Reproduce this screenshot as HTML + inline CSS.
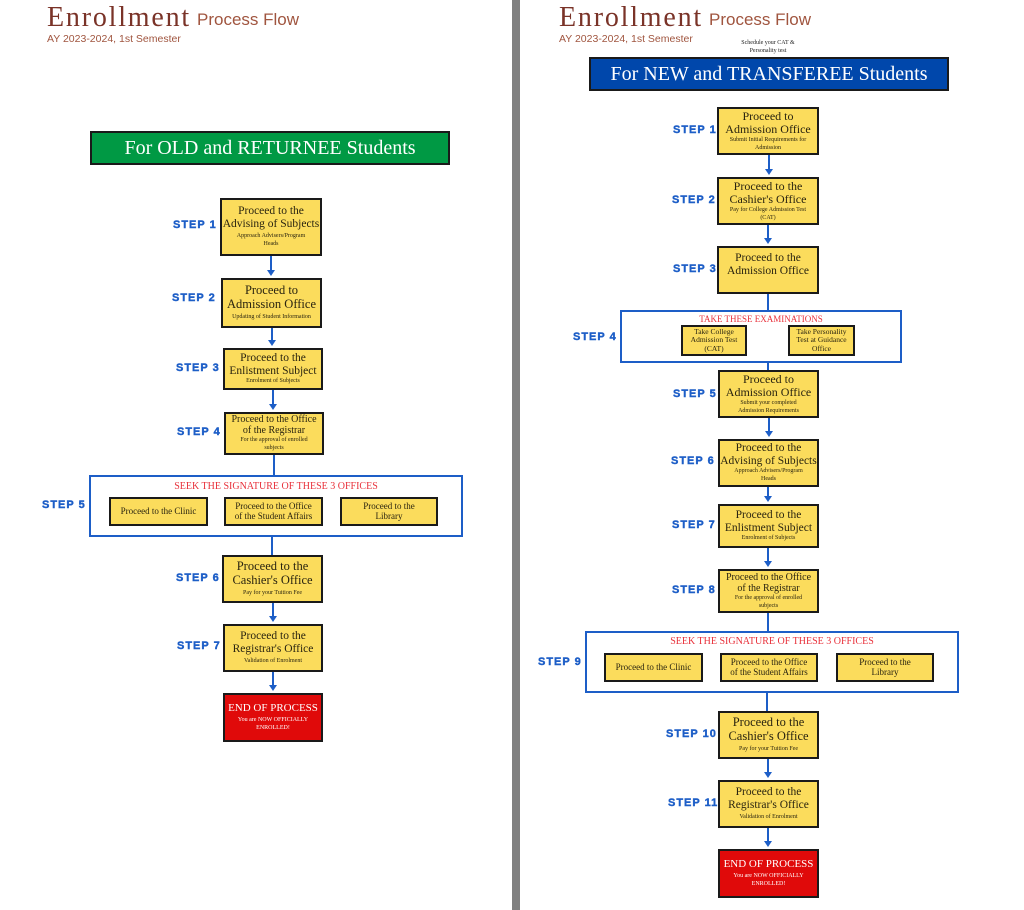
<!DOCTYPE html>
<html><head><meta charset="utf-8"><style>
*{margin:0;padding:0;box-sizing:border-box}
body{width:1024px;height:910px;background:#fff;position:relative;overflow:hidden;font-family:"Liberation Serif",serif}
.a{position:absolute}
.bx{position:absolute;background:#fbdc5c;border:2px solid #1a1a1a;display:flex;flex-direction:column;align-items:center;justify-content:center;text-align:center;color:#2a2410;line-height:1.1}
.t{font-size:11.5px}
.t2{font-size:10px}
.s{font-size:6px;margin-top:3px;line-height:1.3}
.red{background:#e00a0a;color:#fff}
.st{position:absolute;font-family:"Liberation Sans",sans-serif;font-weight:bold;color:#1d5ec7;font-size:11px;letter-spacing:1px;white-space:nowrap;-webkit-text-stroke:0.4px #1d5ec7}
.cont{position:absolute;border:2px solid #1d5ec7;background:#fff}
.ct{position:absolute;left:0;right:0;text-align:center;color:#e8303a;font-size:10px}
.h1{position:absolute;font-size:28px;color:#7a3328;font-family:"Liberation Serif",serif;letter-spacing:1.8px}
.h2{position:absolute;font-size:17px;color:#a0553f;font-family:"Liberation Sans",sans-serif}
.h3{position:absolute;font-size:10.5px;color:#a0553f;font-family:"Liberation Sans",sans-serif}
.ban{position:absolute;border:2px solid #1a1a1a;color:#fff;font-size:20px;text-align:center}
</style></head><body>
<div class="a" style="left:512px;top:0;width:8px;height:910px;background:#808080"></div>

<!-- LEFT -->
<div class="h1" style="left:47px;top:2px">Enrollment</div>
<div class="h2" style="left:197px;top:10px">Process Flow</div>
<div class="h3" style="left:47px;top:33px">AY 2023-2024, 1st Semester</div>
<div class="ban" style="left:90px;top:131px;width:360px;height:34px;background:#009944;line-height:30px">For OLD and RETURNEE Students</div>

<svg class="a" style="left:0;top:0" width="1024" height="910">
<g stroke="#1d5ec7" stroke-width="2" fill="none">
<line x1="271" y1="256" x2="271" y2="272"/><line x1="272" y1="328" x2="272" y2="342"/><line x1="273" y1="390" x2="273" y2="406"/>
<line x1="274" y1="455" x2="274" y2="476"/><line x1="272" y1="537" x2="272" y2="556"/>
<line x1="273" y1="603" x2="273" y2="618"/><line x1="273" y1="672" x2="273" y2="687"/>
<line x1="208" y1="511" x2="224" y2="511"/><line x1="323" y1="511" x2="340" y2="511"/>
<line x1="769" y1="155" x2="769" y2="171"/><line x1="768" y1="225" x2="768" y2="240"/><line x1="768" y1="294" x2="768" y2="311"/>
<line x1="768" y1="362" x2="768" y2="371"/><line x1="769" y1="418" x2="769" y2="433"/><line x1="768" y1="487" x2="768" y2="498"/>
<line x1="768" y1="548" x2="768" y2="563"/><line x1="768" y1="613" x2="768" y2="632"/><line x1="767" y1="693" x2="767" y2="712"/>
<line x1="768" y1="759" x2="768" y2="774"/><line x1="768" y1="828" x2="768" y2="843"/>
<line x1="703" y1="667" x2="720" y2="667"/><line x1="818" y1="667" x2="836" y2="667"/>
</g>
<g fill="#1d5ec7">
<path d="M267,270h8l-4,6z"/><path d="M268,340h8l-4,6z"/><path d="M269,404h8l-4,6z"/>
<path d="M269,616h8l-4,6z"/><path d="M269,685h8l-4,6z"/>
<path d="M765,169h8l-4,6z"/><path d="M764,238h8l-4,6z"/><path d="M765,431h8l-4,6z"/><path d="M764,496h8l-4,6z"/>
<path d="M764,561h8l-4,6z"/><path d="M764,772h8l-4,6z"/><path d="M764,841h8l-4,6z"/>
</g>
</svg>

<div class="st" style="left:173px;top:219px">STEP 1</div>
<div class="bx" style="left:220px;top:198px;width:102px;height:58px"><div class="t">Proceed to the<br>Advising of Subjects</div><div class="s">Approach Advisers/Program<br>Heads</div></div>
<div class="st" style="left:172px;top:292px">STEP 2</div>
<div class="bx" style="left:221px;top:278px;width:101px;height:50px"><div class="t" style="font-size:12.5px">Proceed to<br>Admission Office</div><div class="s">Updating of Student Information</div></div>
<div class="st" style="left:176px;top:362px">STEP 3</div>
<div class="bx" style="left:223px;top:348px;width:100px;height:42px"><div class="t">Proceed to the<br>Enlistment Subject</div><div class="s" style="margin-top:1px">Enrolment of Subjects</div></div>
<div class="st" style="left:177px;top:426px">STEP 4</div>
<div class="bx" style="left:224px;top:412px;width:100px;height:43px"><div class="t2">Proceed to the Office<br>of the Registrar</div><div class="s" style="margin-top:1px">For the approval of enrolled<br>subjects</div></div>

<div class="st" style="left:42px;top:499px">STEP 5</div>
<div class="cont" style="left:89px;top:475px;width:374px;height:62px"><div class="ct" style="top:4px">SEEK THE SIGNATURE OF THESE 3 OFFICES</div></div>
<div class="bx" style="left:109px;top:497px;width:99px;height:29px"><div class="t2" style="font-size:9px">Proceed to the Clinic</div></div>
<div class="bx" style="left:224px;top:497px;width:99px;height:29px"><div class="t2" style="font-size:9px">Proceed to the Office<br>of the Student Affairs</div></div>
<div class="bx" style="left:340px;top:497px;width:98px;height:29px"><div class="t2" style="font-size:9px">Proceed to the<br>Library</div></div>

<div class="st" style="left:176px;top:572px">STEP 6</div>
<div class="bx" style="left:222px;top:555px;width:101px;height:48px"><div class="t" style="font-size:12.5px">Proceed to the<br>Cashier's Office</div><div class="s">Pay for your Tuition Fee</div></div>
<div class="st" style="left:177px;top:640px">STEP 7</div>
<div class="bx" style="left:223px;top:624px;width:100px;height:48px"><div class="t">Proceed to the<br>Registrar's Office</div><div class="s">Validation of Enrolment</div></div>
<div class="bx red" style="left:223px;top:693px;width:100px;height:49px"><div class="t" style="font-size:11px">END OF PROCESS</div><div class="s">You are NOW OFFICIALLY<br>ENROLLED!</div></div>

<!-- RIGHT -->
<div class="h1" style="left:559px;top:2px">Enrollment</div>
<div class="h2" style="left:709px;top:10px">Process Flow</div>
<div class="h3" style="left:559px;top:33px">AY 2023-2024, 1st Semester</div>
<div class="a" style="left:728px;top:40px;width:80px;text-align:center;font-size:6px;line-height:1.3;color:#222">Schedule your CAT &amp;<br>Personality test</div>
<div class="ban" style="left:589px;top:57px;width:360px;height:34px;background:#0047ab;line-height:30px">For NEW and TRANSFEREE Students</div>

<div class="st" style="left:673px;top:124px">STEP 1</div>
<div class="bx" style="left:717px;top:107px;width:102px;height:48px"><div class="t" style="font-size:12px">Proceed to<br>Admission Office</div><div class="s" style="margin-top:1px">Submit Initial Requirements for<br>Admission</div></div>
<div class="st" style="left:672px;top:194px">STEP 2</div>
<div class="bx" style="left:717px;top:177px;width:102px;height:48px"><div class="t" style="font-size:12px">Proceed to the<br>Cashier's Office</div><div class="s" style="margin-top:1px">Pay for College Admission Test<br>(CAT)</div></div>
<div class="st" style="left:673px;top:263px">STEP 3</div>
<div class="bx" style="left:717px;top:246px;width:102px;height:48px;justify-content:flex-start;padding-top:4px"><div class="t">Proceed to the<br>Admission Office</div></div>

<div class="st" style="left:573px;top:331px">STEP 4</div>
<div class="cont" style="left:620px;top:310px;width:282px;height:53px"><div class="ct" style="top:2px;font-size:9px">TAKE THESE EXAMINATIONS</div></div>
<div class="bx" style="left:681px;top:325px;width:66px;height:31px"><div style="font-size:7.5px">Take College<br>Admission Test<br>(CAT)</div></div>
<div class="bx" style="left:788px;top:325px;width:67px;height:31px"><div style="font-size:7.5px">Take Personality<br>Test at Guidance<br>Office</div></div>

<div class="st" style="left:673px;top:388px">STEP 5</div>
<div class="bx" style="left:718px;top:370px;width:101px;height:48px"><div class="t" style="font-size:12px">Proceed to<br>Admission Office</div><div class="s" style="margin-top:1px">Submit your completed<br>Admission Requirements</div></div>
<div class="st" style="left:671px;top:455px">STEP 6</div>
<div class="bx" style="left:718px;top:439px;width:101px;height:48px"><div class="t">Proceed to the<br>Advising of Subjects</div><div class="s" style="margin-top:1px">Approach Advisers/Program<br>Heads</div></div>
<div class="st" style="left:672px;top:519px">STEP 7</div>
<div class="bx" style="left:718px;top:504px;width:101px;height:44px"><div class="t">Proceed to the<br>Enlistment Subject</div><div class="s" style="margin-top:1px">Enrolment of Subjects</div></div>
<div class="st" style="left:672px;top:584px">STEP 8</div>
<div class="bx" style="left:718px;top:569px;width:101px;height:44px"><div class="t2">Proceed to the Office<br>of the Registrar</div><div class="s" style="margin-top:1px">For the approval of enrolled<br>subjects</div></div>

<div class="st" style="left:538px;top:656px">STEP 9</div>
<div class="cont" style="left:585px;top:631px;width:374px;height:62px"><div class="ct" style="top:3px">SEEK THE SIGNATURE OF THESE 3 OFFICES</div></div>
<div class="bx" style="left:604px;top:653px;width:99px;height:29px"><div class="t2" style="font-size:9px">Proceed to the Clinic</div></div>
<div class="bx" style="left:720px;top:653px;width:98px;height:29px"><div class="t2" style="font-size:9px">Proceed to the Office<br>of the Student Affairs</div></div>
<div class="bx" style="left:836px;top:653px;width:98px;height:29px"><div class="t2" style="font-size:9px">Proceed to the<br>Library</div></div>

<div class="st" style="left:666px;top:728px">STEP 10</div>
<div class="bx" style="left:718px;top:711px;width:101px;height:48px"><div class="t" style="font-size:12.5px">Proceed to the<br>Cashier's Office</div><div class="s">Pay for your Tuition Fee</div></div>
<div class="st" style="left:668px;top:797px">STEP 11</div>
<div class="bx" style="left:718px;top:780px;width:101px;height:48px"><div class="t">Proceed to the<br>Registrar's Office</div><div class="s">Validation of Enrolment</div></div>
<div class="bx red" style="left:718px;top:849px;width:101px;height:49px"><div class="t" style="font-size:11px">END OF PROCESS</div><div class="s">You are NOW OFFICIALLY<br>ENROLLED!</div></div>
</body></html>
